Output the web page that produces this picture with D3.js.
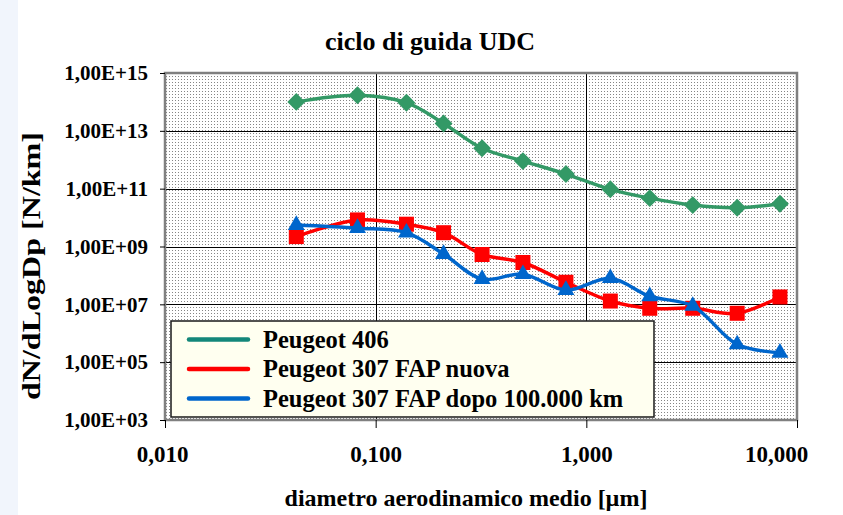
<!DOCTYPE html>
<html lang="it">
<head>
  <meta charset="UTF-8">
  <title>ciclo di guida UDC</title>
  <script type="text/javascript" src="https://d3js.org/d3.v7.min.js"></script>
  <style>
    body{ margin:0; background:#fff; }
    text{ font-family:"Liberation Serif","Times New Roman",serif; font-weight:bold; fill:#000; }
    .grid line{ stroke:#000; stroke-width:1; shape-rendering:crispEdges; }
    .grid path{ display:none; }
  </style>
</head>
<body>
  <svg></svg>
  <script type="text/javascript">

  // diametri medi (micron)
  var diam = [0.042, 0.082, 0.14, 0.21, 0.32, 0.50, 0.80, 1.30, 2.0, 3.2, 5.2, 8.3];

  var peugeot406 = [1.0e14, 1.7e14, 9.4e13, 1.8e13, 2.5e12, 9.0e11, 3.2e11, 9.5e10, 4.7e10, 2.7e10, 2.2e10, 3.0e10];
  var fapNuova = [2.2e9, 8.3e9, 5.9e9, 3.0e9, 5.3e8, 2.8e8, 5.8e7, 1.3e7, 7.3e6, 7.3e6, 4.9e6, 1.8e7];
  var fapDopo = [5.5e9, 4.3e9, 3.0e9, 5.5e8, 7.5e7, 1.1e8, 3.1e7, 8.0e7, 1.9e7, 8.8e6, 4.1e5, 2.1e5];

  var seriesNames = ["Peugeot 406", "Peugeot 307 FAP nuova", "Peugeot 307 FAP dopo 100.000 km"];

  var xTicks = [0.01, 0.1, 1, 10],
    xTickLabels = ["0,010", "0,100", "1,000", "10,000"];
  var yTicks = [1e3, 1e5, 1e7, 1e9, 1e11, 1e13, 1e15],
    yTickLabels = ["1,00E+03", "1,00E+05", "1,00E+07", "1,00E+09", "1,00E+11", "1,00E+13", "1,00E+15"];

  var W = 843, H = 515,
    pL = 165, pR = 797, pT = 73, pB = 420;

  var series = [
    {name: seriesNames[0], values: peugeot406, color: "#339966", legend: "#13877a", shape: d3.symbolSquare, size: 160, rot: 45},
    {name: seriesNames[1], values: fapNuova, color: "#ff0000", legend: "#ff0000", shape: d3.symbolSquare, size: 225, rot: 0},
    {name: seriesNames[2], values: fapDopo, color: "#0066cc", legend: "#0066cc", shape: d3.symbolTriangle, size: 125, rot: 0}
  ];

  var SVG = d3.select("svg").attr("width", W).attr("height", H);

  // sfondo diapositiva
  SVG.append("rect").attr("x", 0).attr("y", 0).attr("width", 18).attr("height", H).attr("fill", "#f1f5fc");

  var defs = SVG.append("defs");
  var pat = defs.append("pattern").attr("id", "dots").attr("patternUnits", "userSpaceOnUse")
    .attr("width", 3).attr("height", 3);
  pat.append("rect").attr("width", 3).attr("height", 3).attr("fill", "#fff");
  pat.append("rect").attr("x", 1).attr("y", 1).attr("width", 1).attr("height", 1).attr("fill", "#858585");

  var x = d3.scaleLog().domain([0.01, 10]).range([pL, pR]);
  var y = d3.scaleLog().domain([1e3, 1e15]).range([pB, pT]);

  // area del grafico
  SVG.append("rect").attr("x", pL).attr("y", pT)
    .attr("width", pR - pL).attr("height", pB - pT)
    .attr("fill", "url(#dots)");

  // griglia
  SVG.append("g").attr("class", "grid")
    .attr("transform", "translate(0," + pB + ")")
    .call(d3.axisBottom(x).tickValues([0.1, 1]).tickSize(-(pB - pT)).tickFormat(""));
  SVG.append("g").attr("class", "grid")
    .attr("transform", "translate(" + pL + ",0)")
    .call(d3.axisLeft(y).tickValues([1e5, 1e7, 1e9, 1e11, 1e13]).tickSize(-(pR - pL)).tickFormat(""));

  SVG.append("rect").attr("x", pL).attr("y", pT)
    .attr("width", pR - pL).attr("height", pB - pT)
    .attr("fill", "none").attr("stroke", "#808080").attr("stroke-width", 2.5);

  // assi
  var xAxis = SVG.append("g").attr("transform", "translate(0," + pB + ")")
    .call(d3.axisBottom(x).tickValues(xTicks).tickSize(8).tickPadding(20)
      .tickFormat(function(d, i){ return xTickLabels[i]; }));
  xAxis.select(".domain").remove();
  xAxis.selectAll("line").attr("stroke", "#000");
  xAxis.selectAll("text").style("font-size", "23px").attr("dy", "0.6em")
    .style("font-family", "'Liberation Serif','Times New Roman',serif").style("font-weight", "bold")
    .attr("dx", function(d){ return d === 10 ? "-21px" : (d === 0.01 ? "-3px" : 0); });

  var yAxis = SVG.append("g").attr("transform", "translate(" + pL + ",0)")
    .call(d3.axisLeft(y).tickValues(yTicks).tickSize(5).tickPadding(12)
      .tickFormat(function(d, i){ return yTickLabels[i]; }));
  yAxis.select(".domain").remove();
  yAxis.selectAll("line").attr("stroke", "#000");
  yAxis.selectAll("text").style("font-size", "21px")
    .style("font-family", "'Liberation Serif','Times New Roman',serif").style("font-weight", "bold");

  // titoli
  SVG.append("text").attr("x", 430).attr("y", 50).attr("text-anchor", "middle")
    .style("font-size", "26px").text("ciclo di guida UDC");
  SVG.append("text").attr("x", 466).attr("y", 506).attr("text-anchor", "middle")
    .style("font-size", "24px").text("diametro aerodinamico medio [\u00b5m]");
  SVG.append("text").attr("transform", "translate(40,266)rotate(-90)").attr("text-anchor", "middle")
    .attr("textLength", 268).attr("lengthAdjust", "spacingAndGlyphs")
    .style("font-size", "25px").text("dN/dLogDp [N/km]");

  // serie
  var line = d3.line()
    .x(function(d){ return x(d[0]); })
    .y(function(d){ return y(d[1]); })
    .curve(d3.curveCatmullRom);

  series.forEach(function(s){
    var pts = diam.map(function(d, i){ return [d, s.values[i]]; });
    SVG.append("path").attr("d", line(pts))
      .attr("fill", "none").attr("stroke", s.color).attr("stroke-width", 3.5);
    SVG.append("g").selectAll("path").data(pts).enter().append("path")
      .attr("transform", function(d){ return "translate(" + x(d[0]) + "," + y(d[1]) + ")rotate(" + s.rot + ")"; })
      .attr("d", d3.symbol().type(s.shape).size(s.size))
      .attr("fill", s.color);
  });

  // legenda
  var lg = SVG.append("g").attr("transform", "translate(171,321)");
  lg.append("rect").attr("width", 483).attr("height", 96)
    .attr("fill", "#fffff0").attr("stroke", "#1a1a1a").attr("stroke-width", 1.5);
  series.forEach(function(s, i){
    var cy = 18.5 + i * 29.5;
    lg.append("line").attr("x1", 18).attr("x2", 77).attr("y1", cy).attr("y2", cy)
      .attr("stroke", s.legend).attr("stroke-width", 4.5).attr("stroke-linecap", "round");
    lg.append("text").attr("x", 92).attr("y", cy + 8).style("font-size", "24.5px").text(s.name);
  });

  </script>
</body>
</html>
